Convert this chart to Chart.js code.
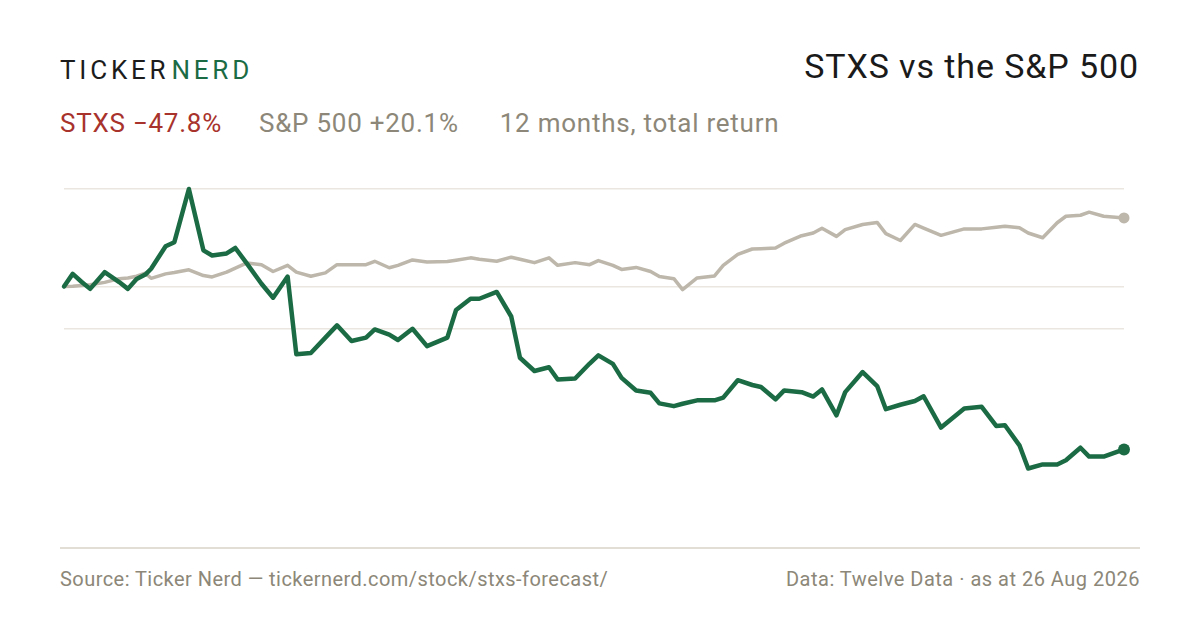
<!DOCTYPE html>
<html>
<head>
<meta charset="utf-8">
<title>STXS vs the S&P 500</title>
<script src="https://cdn.jsdelivr.net/npm/chart.js@4.4.1/dist/chart.umd.min.js"></script>
<style>
  html, body { margin: 0; padding: 0; background: #fff; }
  body { width: 1200px; height: 630px; position: relative; overflow: hidden; font-family: Roboto, "Liberation Sans", sans-serif; }
  .abs { position: absolute; line-height: 1; white-space: nowrap; }
  #brand { left: 60px; top: 57px; font-size: 26px; letter-spacing: 3.8px; color: #1c1c1c; }
  #brand .nerd { color: #1b6b45; margin-left: 2px; }
  #title { right: 61px; top: 49px; font-size: 34px; letter-spacing: 0.9px; color: #1a1a1a; }
  #sub { left: 60px; top: 110px; font-size: 26px; letter-spacing: 0.75px; color: #8c8778; }
  #sub .red { color: #a8322c; margin-right: 37px; }
  #sub .mid { margin-right: 41px; }
  #rule { position: absolute; left: 60px; top: 547px; width: 1080px; height: 2px; background: #e2ded5; }
  #src { left: 60px; top: 569px; font-size: 20px; letter-spacing: 0.45px; color: #8c8778; }
  #data { right: 60px; top: 569px; font-size: 20px; letter-spacing: 0.5px; color: #8c8778; }
  #wrap { position: absolute; left: 44px; top: 169px; width: 1100px; height: 342px; }
</style>
</head>
<body>
<div id="brand" class="abs">TICKER<span class="nerd">NERD</span></div>
<div id="title" class="abs">STXS vs the S&amp;P 500</div>
<div id="sub" class="abs"><span class="red">STXS −47.8%</span><span class="mid">S&amp;P 500 +20.1%</span><span>12 months, total return</span></div>
<div id="wrap"><canvas id="chart"></canvas></div>
<div id="rule"></div>
<div id="src" class="abs">Source: Ticker Nerd — tickernerd.com/stock/stxs-forecast/</div>
<div id="data" class="abs">Data: Twelve Data · as at 26 Aug 2026</div>
<script>
// days since start of the 12 month window
const days = [0, 3, 6, 9, 14, 19, 22, 25, 28, 30, 35, 38, 43, 48, 51, 56, 59, 63, 68, 72,
  77, 80, 85, 90, 94, 99, 104, 107, 112, 115, 120, 125, 132, 135, 140, 143, 149, 154, 157, 162,
  167, 170, 176, 181, 184, 189, 192, 197, 202, 205, 210, 213, 218, 224, 227, 232, 237, 240, 245, 248,
  254, 258, 261, 266, 269, 275, 280, 283, 288, 293, 296, 302, 310, 316, 321, 324, 329, 332, 337, 342,
  345, 350, 353, 358, 365];

// total return, %
const stxs = [0, 3.7, 1.4, -0.7, 4.2, 1.3, -0.7, 2.2, 3.5, 5.2, 11.8, 13.0, 28.6, 10.6, 9.1, 9.7, 11.3, 6.7, 0.8, -3.3,
  2.9, -19.9, -19.5, -15.0, -11.4, -16.0, -15.0, -12.6, -14.1, -15.7, -12.4, -17.5, -15.0, -6.9, -3.6, -3.6, -1.6, -8.8, -20.9, -24.8,
  -23.7, -27.3, -27.0, -22.6, -20.2, -22.7, -26.8, -30.5, -31.2, -34.3, -35.1, -34.4, -33.4, -33.4, -32.6, -27.5, -28.9, -29.5, -33.1, -30.5,
  -31.0, -32.3, -30.2, -37.8, -31.0, -25.1, -29.2, -36.0, -34.7, -33.6, -32.2, -41.4, -35.8, -35.3, -40.9, -40.7, -46.6, -53.4, -52.2, -52.2,
  -51.0, -47.3, -49.9, -49.9, -47.8];

const spx = [0, 0.1, 0.3, 0.5, 1.2, 2.3, 2.5, 3.0, 3.9, 2.4, 3.7, 4.1, 4.9, 3.2, 2.8, 4.2, 5.4, 6.9, 6.4, 4.4,
  6.2, 4.2, 3.0, 4.0, 6.4, 6.4, 6.4, 7.4, 5.5, 6.2, 7.8, 7.2, 7.3, 7.7, 8.4, 8.0, 7.4, 8.6, 8.0, 7.0,
  8.4, 6.2, 7.0, 6.4, 7.6, 6.2, 5.0, 5.6, 4.4, 2.9, 2.3, -0.9, 2.5, 3.1, 6.2, 9.4, 11.0, 11.1, 11.3, 12.7,
  14.9, 15.7, 17.1, 14.7, 16.7, 18.2, 18.8, 15.5, 13.5, 18.2, 17.1, 15.0, 16.9, 16.9, 17.4, 17.7, 17.2, 15.7, 14.3, 18.7,
  20.6, 20.9, 21.8, 20.6, 20.1];

const gridValues = [28.6, 0, -12.3];

const GREEN = '#1b6b45';
const GREY = '#bdb6aa';

function toPoints(values) {
  return days.map((d, i) => ({ x: d, y: values[i] }));
}

function lastDot(r) {
  return ctx => ctx.dataIndex === days.length - 1 ? r : 0;
}

new Chart(document.getElementById('chart'), {
  type: 'line',
  data: {
    datasets: [
      {
        label: 'STXS',
        data: toPoints(stxs),
        borderColor: GREEN,
        backgroundColor: GREEN,
        borderWidth: 4.5,
        pointRadius: lastDot(6),
        pointBorderWidth: 0,
        pointBackgroundColor: GREEN,
        tension: 0,
        borderJoinStyle: 'round',
        borderCapStyle: 'round',
        clip: false
      },
      {
        label: 'S&P 500',
        data: toPoints(spx),
        borderColor: GREY,
        backgroundColor: GREY,
        borderWidth: 3.5,
        pointRadius: lastDot(5.5),
        pointBorderWidth: 0,
        pointBackgroundColor: GREY,
        tension: 0,
        borderJoinStyle: 'round',
        borderCapStyle: 'round',
        clip: false
      }
    ]
  },
  options: {
    responsive: true,
    maintainAspectRatio: false,
    animation: false,
    layout: { padding: { left: 20, right: 20, top: 20, bottom: 20 } },
    plugins: { legend: { display: false }, tooltip: { enabled: false } },
    scales: {
      x: { type: 'linear', min: 0, max: 365, display: false },
      y: {
        min: -60,
        max: 28.6,
        afterBuildTicks: axis => { axis.ticks = gridValues.map(v => ({ value: v })); },
        ticks: { display: false },
        border: { display: false },
        grid: { color: '#ebe7e0', lineWidth: 1.5, drawTicks: false }
      }
    }
  }
});
</script>
</body>
</html>
